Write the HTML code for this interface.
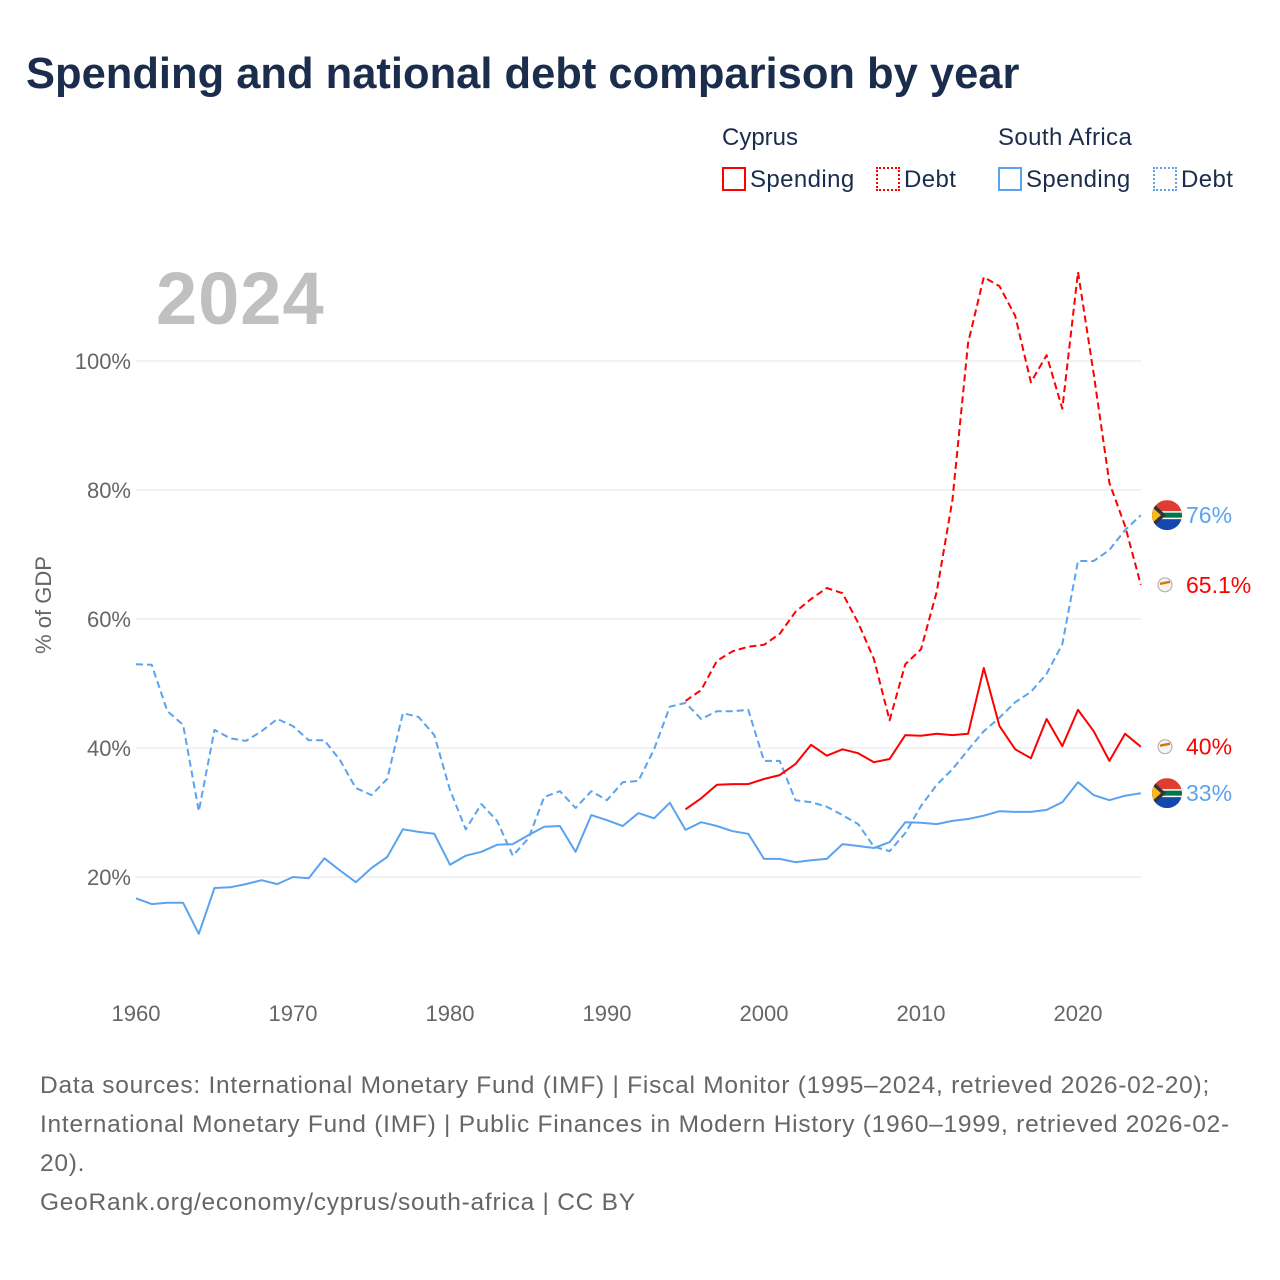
<!DOCTYPE html>
<html><head><meta charset="utf-8"><style>
body{margin:0;background:#fff;font-family:"Liberation Sans",sans-serif}
#wrap{position:relative;width:1280px;height:1280px;overflow:hidden}
.t{position:absolute;white-space:nowrap}
</style></head><body>
<div id="wrap">
<div class="t" style="left:26px;top:50px;font-size:43.5px;font-weight:bold;color:#1b2d4c;letter-spacing:0px">Spending and national debt comparison by year</div>
<div class="t" style="left:722px;top:124px;font-size:24px;color:#1b2d4c">Cyprus</div>
<div class="t" style="left:998px;top:124px;font-size:24px;color:#1b2d4c;letter-spacing:0.4px">South Africa</div>
<div class="t" style="left:722px;top:166px;font-size:24px;color:#1b2d4c;letter-spacing:0.4px"><span style="display:inline-block;width:24px;height:24px;border:2px solid #f00;box-sizing:border-box;vertical-align:-4px;margin-right:4px"></span>Spending</div>
<div class="t" style="left:876px;top:166px;font-size:24px;color:#1b2d4c;letter-spacing:0.4px"><span style="display:inline-block;width:24px;height:24px;border:2px dotted #f00;box-sizing:border-box;vertical-align:-4px;margin-right:4px"></span>Debt</div>
<div class="t" style="left:998px;top:166px;font-size:24px;color:#1b2d4c;letter-spacing:0.4px"><span style="display:inline-block;width:24px;height:24px;border:2px solid #5ba3ee;box-sizing:border-box;vertical-align:-4px;margin-right:4px"></span>Spending</div>
<div class="t" style="left:1153px;top:166px;font-size:24px;color:#1b2d4c;letter-spacing:0.4px"><span style="display:inline-block;width:24px;height:24px;border:2px dotted #5ba3ee;box-sizing:border-box;vertical-align:-4px;margin-right:4px"></span>Debt</div>
<svg id="chart" width="1280" height="1280" style="position:absolute;left:0;top:0"></svg>
<div class="t" style="left:40px;top:1066px;font-size:24.5px;line-height:39px;color:#666;letter-spacing:0.75px">Data sources: International Monetary Fund (IMF) | Fiscal Monitor (1995–2024, retrieved 2026-02-20);<br>International Monetary Fund (IMF) | Public Finances in Modern History (1960–1999, retrieved 2026-02-<br>20).<br>GeoRank.org/economy/cyprus/south-africa | CC BY</div>
</div>
<script>
const saYears0=1960, cyYears0=1995;
const saSpending=[16.7,15.8,16,16,11.2,18.3,18.4,18.9,19.5,18.9,20,19.8,22.9,21,19.2,21.4,23.1,27.4,27,26.7,21.9,23.3,23.9,25,25.1,26.5,27.8,27.9,23.9,29.6,28.8,27.9,29.9,29.1,31.5,27.3,28.5,27.9,27.1,26.7,22.8,22.8,22.3,22.6,22.8,25.1,24.8,24.5,25.4,28.5,28.4,28.2,28.7,29,29.5,30.2,30.1,30.1,30.4,31.6,34.7,32.7,31.9,32.6,33];
const saDebt=[53,52.9,45.7,43.6,30.2,42.8,41.5,41.1,42.6,44.5,43.4,41.2,41.2,38.1,33.8,32.7,35.2,45.4,44.8,42,33.5,27.4,31.3,28.7,23.3,26,32.4,33.3,30.7,33.3,31.9,34.7,34.9,39.8,46.4,47,44.5,45.7,45.7,45.9,38,38,31.9,31.6,30.9,29.6,28.2,24.7,24,26.8,31,34.3,36.7,39.7,42.6,44.7,47.1,48.7,51.5,56.1,69,69,70.7,73.8,76.1];
const cySpending=[30.5,32.2,34.3,34.4,34.4,35.2,35.8,37.5,40.5,38.8,39.8,39.2,37.8,38.3,42,41.9,42.2,42,42.2,52.4,43.4,39.8,38.4,44.5,40.3,45.9,42.6,38,42.2,40.2];
const cyDebt=[47.3,49,53.5,55,55.7,56,57.7,61.1,63.1,64.8,64,59.4,53.8,44.3,53,55.3,64.2,78.4,102.8,113,111.6,107,96.7,100.9,92.6,113.8,98,81.1,74.4,65.3];
const yTicks=[20,40,60,80,100];
const xTicks=[1960,1970,1980,1990,2000,2010,2020];
const endLabels=["33%","76%","40%","65.1%"];
const NS="http://www.w3.org/2000/svg";
const svg=document.getElementById('chart');
const X=yr=>136+(yr-1960)*15.7;
const Y=v=>361+(100-v)*6.45;
function mk(tag,attrs){const e=document.createElementNS(NS,tag);for(const k in attrs)e.setAttribute(k,attrs[k]);svg.appendChild(e);return e;}
yTicks.forEach(v=>{
 const l=mk('line',{x1:136,x2:1141,y1:Y(v),y2:Y(v),stroke:'#e6e6e6','stroke-width':1});
 
 
 const t=mk('text',{x:131,y:Y(v)+8,'text-anchor':'end','font-size':22,fill:'#666','font-family':'Liberation Sans, sans-serif'});
 t.textContent=v+'%';
 
 
});
xTicks.forEach(yr=>{
 const t=mk('text',{x:X(yr),y:1021,'text-anchor':'middle','font-size':22,fill:'#666','font-family':'Liberation Sans, sans-serif'});
 t.textContent=yr;
 
 
});
const yt=mk('text',{x:0,y:0,transform:'translate(51,605) rotate(-90)','text-anchor':'middle','font-size':22,fill:'#666','font-family':'Liberation Sans, sans-serif'});
yt.textContent='% of GDP';


const yr=mk('text',{x:156,y:324,'font-size':74,'font-weight':'bold',fill:'#c0c0c0','font-family':'Liberation Sans, sans-serif','letter-spacing':1});
yr.textContent='2024';


function line(arr,y0,color,dash,name){
 const d=arr.map((v,i)=>(i?'L':'M')+X(y0+i).toFixed(1)+' '+Y(v).toFixed(1)).join(' ');
 const p=mk('path',{d:d,fill:'none',stroke:color,'stroke-width':2,'stroke-dasharray':dash,'stroke-linejoin':'round'});
 
 
}
line(saDebt,saYears0,'#5ba3ee','7 4','line-sa-debt');
line(saSpending,saYears0,'#5ba3ee','none','line-sa-spending');
line(cyDebt,cyYears0,'#f00','7 4','line-cyprus-debt');
line(cySpending,cyYears0,'#f00','none','line-cyprus-spending');
const endVals=[saSpending[saSpending.length-1],saDebt[saDebt.length-1],cySpending[cySpending.length-1],cyDebt[cyDebt.length-1]];
const endColors=['#5ba3ee','#5ba3ee','#f00','#f00'];
endVals.forEach((v,i)=>{
 const cy=Y(v), cx=1167;
 if(i<2){
  const g=document.createElementNS(NS,'g');svg.appendChild(g);
  
  
  g.innerHTML=`<clipPath id="c${i}"><circle cx="${cx}" cy="${cy}" r="15"/></clipPath><g clip-path="url(#c${i})"><rect x="${cx-15}" y="${cy-15}" width="30" height="15" fill="#e03c31"/><rect x="${cx-15}" y="${cy}" width="30" height="15" fill="#1448b0"/><rect x="${cx-15}" y="${cy-4}" width="30" height="8" fill="#fff"/><rect x="${cx-15}" y="${cy-2.5}" width="30" height="5" fill="#007749"/><polygon points="${cx-15},${cy-13} ${cx-1},${cy} ${cx-15},${cy+13}" fill="#333"/><polygon points="${cx-15},${cy-8} ${cx-6},${cy} ${cx-15},${cy+8}" fill="#ffb81c"/></g>`;
 } else {
  const c=mk('circle',{cx:cx-2,cy:cy,r:7,fill:'#f4f4f4',stroke:'#aaa','stroke-width':1});
  
  
  mk('path',{d:`M${cx-7} ${cy-1} L${cx+3} ${cy-3}`,stroke:'#d57800','stroke-width':2.5});
 }
 const t=mk('text',{x:1186,y:cy+8,'font-size':23,fill:endColors[i],'font-family':'Liberation Sans, sans-serif'});
 t.textContent=endLabels[i];
 
 
});
</script>
</body></html>
